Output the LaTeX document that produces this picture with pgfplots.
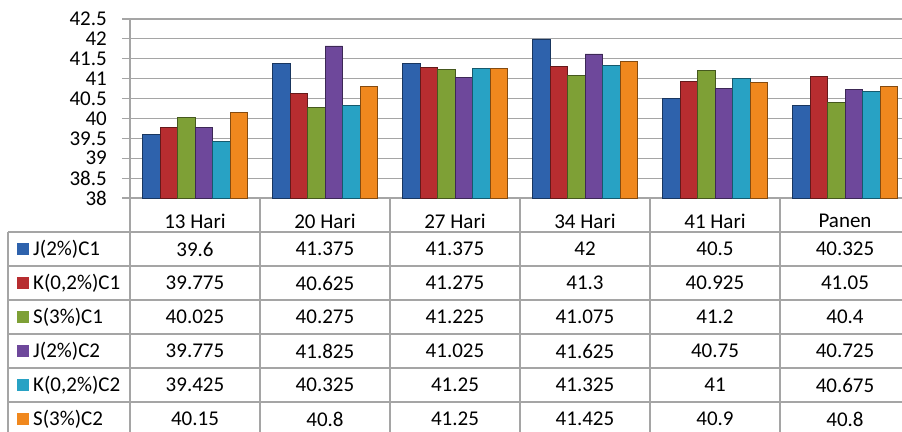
\documentclass[border=0pt]{standalone}
\usepackage{pgfplots}
\pgfplotsset{compat=1.18}
\usepackage{pgfplotstable}
\usepackage{fontspec}
\setmainfont{Carlito}

\definecolor{blueC}{RGB}{46,98,172}
\definecolor{redC}{RGB}{183,45,48}
\definecolor{greenC}{RGB}{126,160,54}
\definecolor{purpleC}{RGB}{110,72,155}
\definecolor{cyanC}{RGB}{40,162,196}
\definecolor{orangeC}{RGB}{240,136,30}
\definecolor{gridC}{RGB}{165,165,165}

\tikzset{bevel/.style={draw=#1!55!black, line width=0.6bp, fill=#1}}

% rows = days, columns = series
\pgfplotstableread{
x J1     K1     S1     J2     K2     S2
0 39.6   39.775 40.025 39.775 39.425 40.15
1 41.375 40.625 40.275 41.825 40.325 40.8
2 41.375 41.275 41.225 41.025 41.25  41.25
3 42     41.3   41.075 41.625 41.325 41.425
4 40.5   40.925 41.2   40.75  41     40.9
5 40.325 41.05  40.4   40.725 40.675 40.8
}\datatable

\begin{document}
\fontsize{21bp}{25bp}\selectfont
\begin{tikzpicture}[x=1bp,y=1bp]
\path[use as bounding box] (0,0) rectangle (902,431);
\begin{axis}[
    at={(130bp,233bp)}, anchor=south west,
    scale only axis, width=780bp, height=179bp,
    xmin=-0.5, xmax=5.5,
    ymin=38, ymax=42.5,
    ytick distance=0.5,
    xtick={0,...,5},
    xticklabels={13 Hari,20 Hari,27 Hari,34 Hari,41 Hari,Panen},
    major x tick style={draw=none},
    xticklabel style={anchor=center, yshift=-15bp},
    yticklabel style={xshift=-8bp},
    tick label style={font=\fontsize{21bp}{25bp}\selectfont},
    /pgf/number format/assume math mode=true,
    axis y line*=left, axis x line*=bottom,
    axis line style={gridC, line width=1.2bp, -},
    tick align=outside, major tick length=8bp,
    y tick style={gridC, line width=1.2bp},
    ymajorgrids, grid style={gridC, line width=1.2bp},
    ybar=0pt, bar width=17.5bp,
]
\addplot[bevel=blueC]   table[x=x, y=J1] {\datatable};
\addplot[bevel=redC]    table[x=x, y=K1] {\datatable};
\addplot[bevel=greenC]  table[x=x, y=S1] {\datatable};
\addplot[bevel=purpleC] table[x=x, y=J2] {\datatable};
\addplot[bevel=cyanC]   table[x=x, y=K2] {\datatable};
\addplot[bevel=orangeC] table[x=x, y=S2] {\datatable};
\end{axis}

% data table under the chart
\begin{scope}[gridC, line width=1.2bp]
\foreach \yy in {199,165,131,97,63,29,-5} \draw (8,\yy) -- (912,\yy);
\draw (8,199) -- (8,-5);
\foreach \k in {0,...,6} \draw ({130+130*\k},233) -- ({130+130*\k},-5);
\end{scope}
\foreach \col/\clr/\lab [count=\i from 0] in
  {J1/blueC/J(2\%)C1, K1/redC/{K(0,2\%)C1}, S1/greenC/S(3\%)C1,
   J2/purpleC/J(2\%)C2, K2/cyanC/{K(0,2\%)C2}, S2/orangeC/S(3\%)C2}{
  \pgfmathsetmacro{\yc}{182-34*\i}
  \fill[\clr] (17,\yc-6) rectangle (29,\yc+6);
  \node[anchor=west, inner sep=0pt] at (33,\yc) {\lab};
  \foreach \r in {0,...,5}{
    \pgfplotstablegetelem{\r}{\col}\of\datatable
    \node at ({195+130*\r},\yc) {\pgfplotsretval};
  }
}
\end{tikzpicture}
\end{document}
